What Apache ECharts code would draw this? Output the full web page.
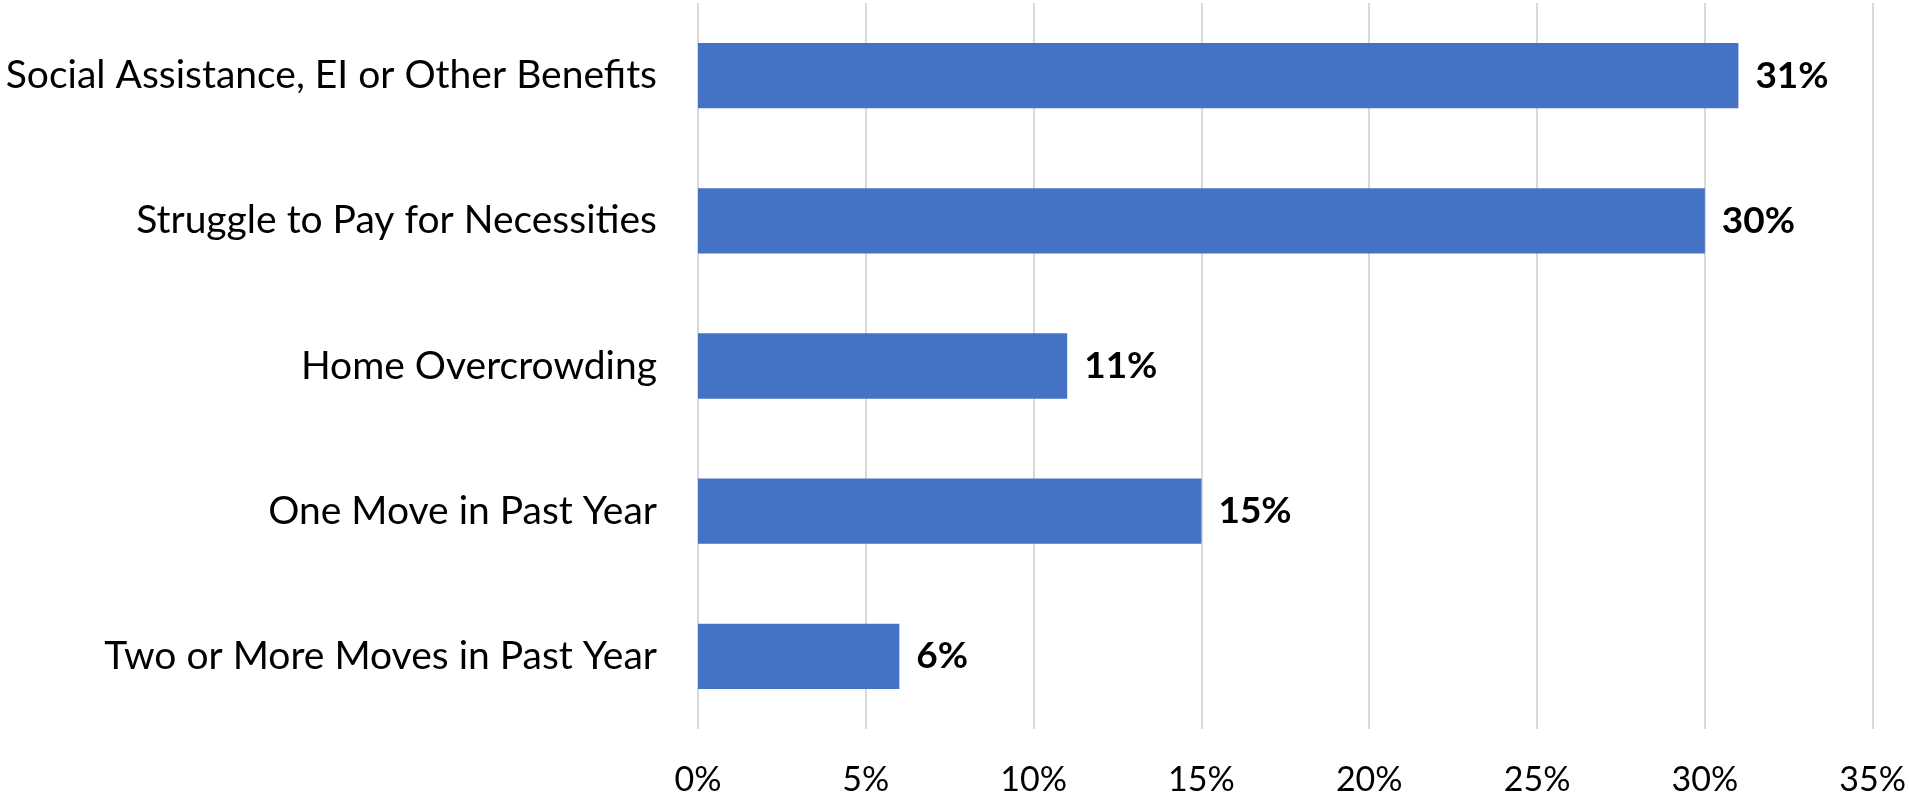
<!DOCTYPE html>
<html>
<head>
<meta charset="utf-8">
<script src="https://cdn.jsdelivr.net/npm/echarts@6/dist/echarts.min.js"></script>
<style>
html,body{margin:0;padding:0;background:#fff;}
#chart{width:1909px;height:797px;}
</style>
</head>
<body>
<div id="chart"></div>
<script>
const categories = [
  "Social Assistance, EI or Other Benefits",
  "Struggle to Pay for Necessities",
  "Home Overcrowding",
  "One Move in Past Year",
  "Two or More Moves in Past Year"
];
const values = [31, 30, 11, 15, 6];
const xTicks = { min: 0, max: 35, interval: 5 };

const FONT = 'Lato';
const chart = echarts.init(document.getElementById('chart'), null, { renderer: 'canvas' });
chart.setOption({
  animation: false,
  backgroundColor: '#ffffff',
  grid: { left: 698, right: 32, top: 3, bottom: 64, containLabel: false },
  xAxis: {
    type: 'value',
    min: xTicks.min, max: xTicks.max, interval: xTicks.interval,
    axisLine: { show: false },
    axisTick: { show: false },
    splitLine: { show: true, lineStyle: { color: '#d9d9d9', width: 2 } },
    axisLabel: {
      formatter: '{value}%',
      color: '#000',
      fontFamily: FONT,
      fontSize: 34,
      margin: 34
    }
  },
  yAxis: {
    type: 'category',
    data: categories,
    inverse: true,
    axisLine: { show: false },
    axisTick: { show: false },
    axisLabel: {
      color: '#000',
      fontFamily: FONT,
      fontSize: 39,
      margin: 41
    }
  },
  series: [{
    type: 'bar',
    data: values,
    barCategoryGap: '55%',
    itemStyle: { color: '#4472C4' },
    label: {
      show: true,
      position: 'right',
      distance: 17,
      formatter: '{c}%',
      color: '#000',
      fontFamily: FONT,
      fontWeight: 'bold',
      fontSize: 37
    }
  }]
});
</script>
</body>
</html>
